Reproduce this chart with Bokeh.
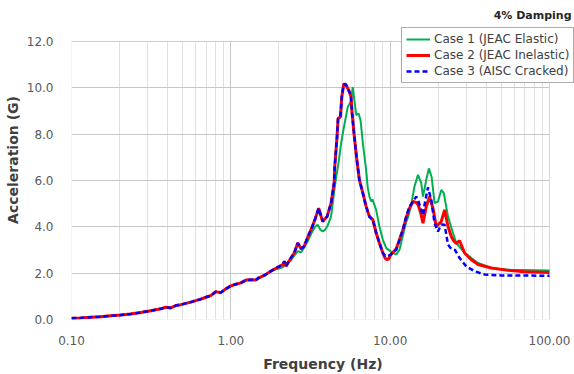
from bokeh.plotting import figure
from bokeh.models import (Range1d, FixedTicker, PrintfTickFormatter, Legend,
                          LegendItem, Label, BoxAnnotation)
from bokeh.embed import file_html
from bokeh.resources import INLINE

# ---------------- data ----------------
freq_case1 = [0.100, 0.114, 0.132, 0.152, 0.176, 0.203, 0.235, 0.272, 0.314, 0.363,
              0.390, 0.419, 0.451, 0.485, 0.560, 0.648, 0.696, 0.748, 0.805, 0.865,
              0.930, 1.000, 1.075, 1.156, 1.243, 1.336, 1.436, 1.490, 1.620, 1.750,
              1.880, 2.120, 2.220, 2.380, 2.500, 2.630, 2.760, 2.880, 3.050, 3.220,
              3.380, 3.510, 3.650, 3.770, 3.900, 4.020, 4.256, 4.450, 4.550, 4.750,
              4.920, 5.110, 5.420, 5.640, 5.740, 5.820, 5.960, 6.130, 6.340, 6.520,
              6.740, 7.070, 7.230, 7.410, 7.600, 7.740, 8.170, 8.560, 9.000, 9.450,
              10.06, 10.91, 11.44, 12.00, 12.60, 13.00, 13.60, 14.20, 14.94, 15.67,
              16.06, 16.84, 17.50, 18.20, 18.99, 19.95, 20.94, 21.70, 23.07, 24.80,
              26.00, 29.33, 35.62, 43.17, 55.00, 100.0]
acc_case1 = [0.05, 0.07, 0.10, 0.12, 0.16, 0.19, 0.24, 0.30, 0.38, 0.46,
             0.53, 0.50, 0.60, 0.64, 0.75, 0.88, 0.96, 1.03, 1.20, 1.16,
             1.32, 1.45, 1.52, 1.58, 1.70, 1.72, 1.70, 1.79, 1.90, 2.05,
             2.15, 2.25, 2.40, 2.55, 2.75, 2.95, 2.90, 3.10, 3.40, 3.75,
             4.00, 4.09, 3.87, 3.80, 3.87, 4.00, 4.44, 5.50, 6.00, 6.80,
             7.60, 8.25, 9.17, 9.39, 9.68, 10.03, 9.46, 8.82, 8.89, 8.60,
             7.60, 6.45, 5.70, 5.30, 5.09, 5.18, 4.73, 4.01, 3.44, 3.08,
             2.94, 2.80, 3.01, 3.60, 4.20, 4.44, 5.02, 5.73, 6.24, 5.88,
             5.30, 6.02, 6.52, 6.16, 5.02, 5.09, 5.59, 5.45, 4.44, 3.73,
             3.30, 2.87, 2.44, 2.22, 2.15, 2.11]

freq_case2 = [0.100, 0.114, 0.132, 0.152, 0.176, 0.203, 0.235, 0.272, 0.314, 0.363,
              0.390, 0.419, 0.451, 0.485, 0.560, 0.648, 0.696, 0.748, 0.805, 0.865,
              0.930, 1.000, 1.075, 1.156, 1.243, 1.336, 1.436, 1.490, 1.620, 1.750,
              1.880, 2.120, 2.170, 2.220, 2.380, 2.500, 2.630, 2.760, 2.880, 3.050,
              3.220, 3.380, 3.560, 3.770, 4.020, 4.260, 4.450, 4.490, 4.640, 4.710,
              4.870, 4.970, 5.110, 5.250, 5.370, 5.550, 5.680, 5.770, 5.960, 6.180,
              6.410, 6.740, 7.070, 7.410, 7.790, 8.170, 8.560, 9.000, 9.300, 9.530,
              9.800, 10.06, 10.91, 11.44, 12.02, 12.61, 13.22, 13.90, 14.57, 15.00,
              15.67, 16.06, 16.84, 17.67, 18.56, 19.47, 20.94, 21.96, 23.07, 24.19,
              25.00, 26.00, 27.28, 29.33, 32.32, 35.62, 43.17, 55.00, 69.90, 100.0]
acc_case2 = [0.05, 0.07, 0.10, 0.12, 0.16, 0.19, 0.24, 0.30, 0.38, 0.46,
             0.53, 0.50, 0.60, 0.64, 0.75, 0.88, 0.96, 1.03, 1.20, 1.16,
             1.32, 1.45, 1.52, 1.58, 1.70, 1.72, 1.70, 1.79, 1.90, 2.05,
             2.18, 2.37, 2.51, 2.30, 2.65, 2.87, 3.30, 3.05, 3.15, 3.58,
             3.95, 4.33, 4.80, 4.23, 4.44, 5.03, 5.90, 6.60, 7.88, 8.67,
             8.74, 9.60, 10.15, 10.15, 10.03, 9.82, 9.60, 8.89, 7.88, 6.88,
             6.02, 5.45, 4.87, 4.44, 4.30, 3.73, 3.30, 2.87, 2.65, 2.58,
             2.62, 2.78, 3.05, 3.44, 3.87, 4.40, 4.80, 5.09, 5.05, 4.95,
             4.50, 4.16, 4.87, 5.30, 4.80, 4.01, 4.23, 4.73, 4.01, 3.58,
             3.40, 3.28, 3.40, 2.87, 2.58, 2.37, 2.22, 2.12, 2.06, 2.03]

freq_case3 = [0.100, 0.114, 0.132, 0.152, 0.176, 0.203, 0.235, 0.272, 0.314, 0.363,
              0.390, 0.419, 0.451, 0.485, 0.560, 0.648, 0.696, 0.748, 0.805, 0.865,
              0.930, 1.000, 1.075, 1.156, 1.243, 1.336, 1.436, 1.490, 1.620, 1.750,
              1.880, 2.120, 2.170, 2.220, 2.380, 2.500, 2.630, 2.760, 2.880, 3.050,
              3.220, 3.380, 3.560, 3.770, 4.020, 4.260, 4.450, 4.490, 4.640, 4.710,
              4.870, 4.970, 5.110, 5.250, 5.370, 5.550, 5.680, 5.770, 5.960, 6.180,
              6.410, 6.740, 7.070, 7.410, 7.790, 8.170, 8.560, 9.000, 9.300, 9.530,
              10.06, 10.91, 11.44, 12.02, 12.61, 13.22, 13.90, 14.57, 14.94, 15.67,
              16.06, 16.43, 17.26, 18.11, 18.99, 19.95, 20.94, 21.96, 23.07, 24.19,
              25.50, 27.28, 30.06, 33.90, 39.19, 49.90, 100.0]
acc_case3 = [0.05, 0.07, 0.10, 0.12, 0.16, 0.19, 0.24, 0.30, 0.38, 0.46,
             0.53, 0.50, 0.60, 0.64, 0.75, 0.88, 0.96, 1.03, 1.20, 1.16,
             1.32, 1.45, 1.52, 1.58, 1.70, 1.72, 1.70, 1.79, 1.90, 2.05,
             2.18, 2.37, 2.51, 2.30, 2.65, 2.87, 3.30, 3.05, 3.15, 3.58,
             3.95, 4.33, 4.80, 4.23, 4.44, 5.03, 5.90, 6.60, 7.88, 8.67,
             8.74, 9.60, 10.15, 10.15, 10.03, 9.82, 9.60, 8.89, 7.88, 6.88,
             6.02, 5.45, 4.87, 4.44, 4.30, 3.73, 3.30, 2.87, 2.75, 2.72,
             2.80, 3.01, 3.44, 3.87, 4.44, 4.87, 5.09, 5.30, 5.16, 4.73,
             4.50, 4.95, 5.70, 5.16, 4.16, 3.80, 4.10, 4.09, 3.23, 3.05,
             3.00, 2.65, 2.29, 2.08, 1.94, 1.90, 1.89]

series_names = ["Case 1 (JEAC Elastic)", "Case 2 (JEAC Inelastic)", "Case 3 (AISC Cracked)"]
x_ticks = [0.1, 1, 10, 100]
y_ticks = [0, 2, 4, 6, 8, 10, 12]
note_text = "4% Damping"

# ---------------- layout (pixels) ----------------
W, H = 574, 374
LEFT, BOTTOM = 71, 54            # frame left / bottom border
PLOT_RIGHT_PX, PLOT_TOP_PX = 549, 41   # where 100 Hz and 12.0 G sit
X_MIN, X_MAX, Y_MIN, Y_MAX = 0.1, 100.0, 0.0, 12.0

import math
frame_w = W - LEFT
frame_h = H - BOTTOM
plot_w = PLOT_RIGHT_PX - LEFT
plot_h = frame_h - PLOT_TOP_PX
decades = math.log10(X_MAX / X_MIN)
x_end = X_MIN * 10 ** (decades * frame_w / plot_w)
y_end = Y_MAX * frame_h / plot_h

FONT = "DejaVu Sans"
GRID = "#c6c6c6"
p = figure(width=W, height=H, x_axis_type="log",
           x_range=Range1d(X_MIN, x_end), y_range=Range1d(Y_MIN, y_end),
           output_backend="svg", toolbar_location=None,
           min_border_left=LEFT, min_border_right=0,
           min_border_top=0, min_border_bottom=BOTTOM)
p.background_fill_color = "white"
p.border_fill_color = "white"
p.outline_line_color = None

minor = [m * d for d in (0.1, 1, 10) for m in range(2, 10)]
p.xaxis.ticker = FixedTicker(ticks=x_ticks, minor_ticks=minor)
p.yaxis.ticker = FixedTicker(ticks=y_ticks)
p.xaxis.formatter = PrintfTickFormatter(format="%.2f")
p.yaxis.formatter = PrintfTickFormatter(format="%.1f")

for ax in (p.xaxis, p.yaxis):
    ax.major_tick_line_color = None
    ax.minor_tick_line_color = None
    ax.axis_line_color = None
    ax.major_label_text_font = FONT
    ax.major_label_text_font_size = "12px"
    ax.major_label_text_color = "#595959"
    ax.axis_label_text_font = FONT
    ax.axis_label_text_font_size = "14px"
    ax.axis_label_text_font_style = "bold"
    ax.axis_label_text_color = "#404040"

p.xaxis.axis_label = "Frequency (Hz)"
p.yaxis.axis_label = "Acceleration (G)"
p.xaxis.major_label_standoff = 10
p.yaxis.major_label_standoff = 12
p.xaxis.axis_label_standoff = 8
p.yaxis.axis_label_standoff = 3

p.xgrid.grid_line_color = GRID
p.xgrid.minor_grid_line_color = "#e0e0e0"
p.ygrid.grid_line_color = GRID

# mask grid lines outside the plotting area, then draw the plot-area border
p.add_layout(BoxAnnotation(bottom=Y_MAX, fill_color="white", fill_alpha=1,
                           line_alpha=0, level="underlay"))
p.add_layout(BoxAnnotation(left=X_MAX, fill_color="white", fill_alpha=1,
                           line_alpha=0, level="underlay"))
p.add_layout(BoxAnnotation(left=X_MIN, right=X_MAX, bottom=Y_MIN, top=Y_MAX,
                           fill_alpha=0, line_color="#bdbdbd", line_width=1,
                           level="underlay"))

r1 = p.line(freq_case1, acc_case1, line_color="#00B050", line_width=2)
r2 = p.line(freq_case2, acc_case2, line_color="#FF0000", line_width=3)
r3 = p.line(freq_case3, acc_case3, line_color="#0000FF", line_width=2.5,
            line_dash="5 3")

legend = Legend(items=[LegendItem(label=series_names[0], renderers=[r1]),
                       LegendItem(label=series_names[1], renderers=[r2]),
                       LegendItem(label=series_names[2], renderers=[r3])],
                location=(330, 236), orientation="vertical",
                label_text_font=FONT, label_text_font_size="12px",
                label_text_color="#404040",
                glyph_width=24, glyph_height=14, label_height=14,
                label_standoff=4, spacing=2, padding=4, margin=0,
                border_line_color="#595959", border_line_width=1,
                background_fill_color="white", background_fill_alpha=1)
p.add_layout(legend, "center")

p.add_layout(Label(x=500, y=304, x_units="screen", y_units="screen",
                   text=note_text, text_font=FONT, text_font_size="11px",
                   text_font_style="bold", text_color="#262626",
                   text_align="right", text_baseline="middle"))

open("out.html", "w").write(file_html(p, INLINE))
